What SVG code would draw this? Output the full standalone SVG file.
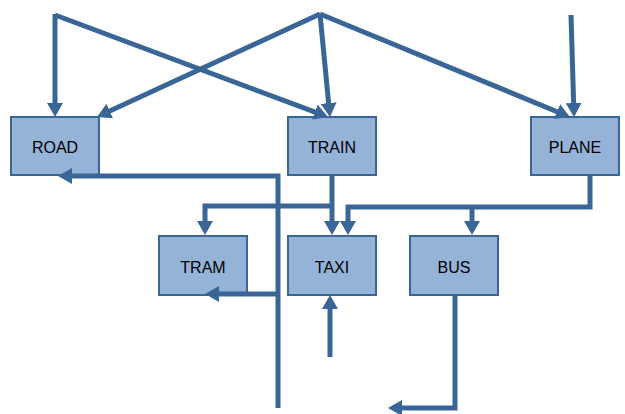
<svg xmlns="http://www.w3.org/2000/svg" width="625" height="414" viewBox="0 0 625 414">
<style>
.box{fill:#95B3D7;stroke:#3A6597;stroke-width:2}
.lbl{font-family:"Liberation Sans",Arial,sans-serif;font-size:16px;fill:#000;text-anchor:middle;dominant-baseline:central}
.c{fill:none;stroke:#3A6597;stroke-width:5;stroke-linejoin:miter}
.a{marker-end:url(#ah)}
</style>
<defs>
<marker id="ah" markerUnits="userSpaceOnUse" markerWidth="14" markerHeight="16" refX="6" refY="8" orient="auto" viewBox="0 0 14 16">
<path d="M0,0 L14,8 L0,16 z" fill="#3A6597"/>
</marker>
</defs>
<rect width="625" height="414" fill="#fff"/>
<g id="road"><rect class="box" x="11" y="117" width="88" height="58"/><text class="lbl" x="55" y="147">ROAD</text></g>
<g id="train"><rect class="box" x="288" y="117" width="88" height="58"/><text class="lbl" x="332" y="147">TRAIN</text></g>
<g id="plane"><rect class="box" x="531" y="117" width="88" height="58"/><text class="lbl" x="575" y="147">PLANE</text></g>
<g id="tram"><rect class="box" x="159" y="236" width="88" height="59"/><text class="lbl" x="203" y="267">TRAM</text></g>
<g id="taxi"><rect class="box" x="288" y="236" width="88" height="59"/><text class="lbl" x="332" y="267">TAXI</text></g>
<g id="bus"><rect class="box" x="410" y="236" width="88" height="59"/><text class="lbl" x="454" y="267">BUS</text></g>
<g id="connectors">
<path class="c a" d="M55,14 V109"/>
<path class="c a" d="M55,15 L320.5,114.2"/>
<path class="c a" d="M320,14 L104.3,113.6"/>
<path class="c a" d="M320,14 L329.2,109"/>
<path class="c a" d="M320,14 L562.6,114"/>
<path class="c a" d="M571,15 L573.8,109"/>
<path class="c a" d="M278,408 V176 H66"/>
<path class="c a" d="M278,294 H213"/>
<path class="c a" d="M332,175 V227"/>
<path class="c a" d="M332,206 H205 V227"/>
<path class="c a" d="M590,175 V207 H348 V227"/>
<path class="c a" d="M472,207 V227"/>
<path class="c a" d="M330,357 V303"/>
<path class="c a" d="M455,295 V408 H396"/>
</g>
</svg>
